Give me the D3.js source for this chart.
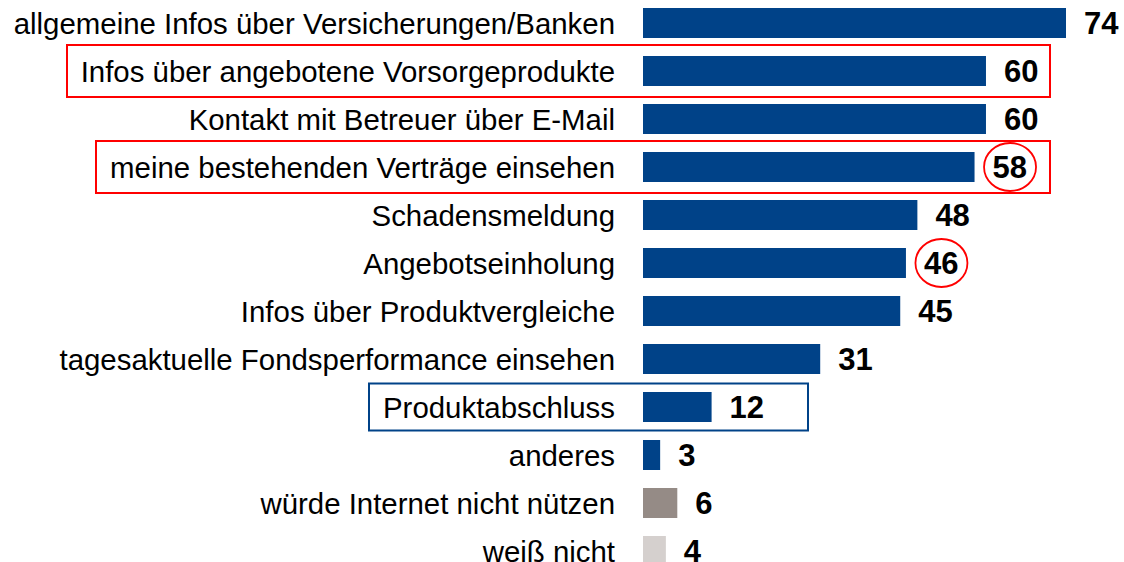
<!DOCTYPE html>
<meta charset="utf-8">
<head>
  <script src="https://d3js.org/d3.v7.min.js"></script>
  <style>
    body { margin: 0; background: #fff; }
    text { font-family: "Liberation Sans", Arial, sans-serif; }
  </style>
</head>
<body>
  <div id="chart"></div>
  <script>
    var categories = [
      "allgemeine Infos über Versicherungen/Banken",
      "Infos über angebotene Vorsorgeprodukte",
      "Kontakt mit Betreuer über E-Mail",
      "meine bestehenden Verträge einsehen",
      "Schadensmeldung",
      "Angebotseinholung",
      "Infos über Produktvergleiche",
      "tagesaktuelle Fondsperformance einsehen",
      "Produktabschluss",
      "anderes",
      "würde Internet nicht nützen",
      "weiß nicht"
    ]
    var values = [74, 60, 60, 58, 48, 46, 45, 31, 12, 3, 6, 4]
    var groups = ["a", "a", "a", "a", "a", "a", "a", "a", "a", "a", "b", "c"]
    var redBoxes = [1, 3]      // rows framed in red
    var blueBoxes = [8]        // rows framed in blue
    var circled = [3, 5]       // values circled in red

    var width = 1124
    var height = 562

    var color = d3.scaleOrdinal()
      .domain(["a", "b", "c"])
      .range(["#004288", "#958b86", "#d5d0ce"])

    var x = d3.scaleLinear().domain([0, 74]).range([643, 1066])
    var y = d3.scaleBand().domain(d3.range(categories.length))
      .range([-1, 575]).paddingInner(0.375).paddingOuter(0.1875)

    var svg = d3.select("#chart").append("svg")
      .attr("width", width)
      .attr("height", height)

    function cy(i) { return y(i) + y.bandwidth() / 2 }

    // bars
    svg.selectAll("rect.bar")
      .data(values)
      .enter().append("rect")
      .attr("class", "bar")
      .attr("x", x(0))
      .attr("y", function(d, i) { return y(i) })
      .attr("width", function(d) { return x(d) - x(0) })
      .attr("height", y.bandwidth())
      .attr("fill", function(d, i) { return color(groups[i]) })

    // category labels
    svg.selectAll("text.cat")
      .data(categories)
      .enter().append("text")
      .attr("class", "cat")
      .attr("x", 615)
      .attr("y", function(d, i) { return cy(i) })
      .attr("dy", "0.36em")
      .attr("text-anchor", "end")
      .style("font-size", "29.4px")
      .attr("fill", "#000")
      .text(function(d) { return d })

    // value labels
    svg.selectAll("text.val")
      .data(values)
      .enter().append("text")
      .attr("class", "val")
      .attr("x", function(d) { return x(d) + 18 })
      .attr("y", function(d, i) { return cy(i) })
      .attr("dy", "0.36em")
      .style("font-size", "31px")
      .style("font-weight", "bold")
      .attr("fill", "#000")
      .text(function(d) { return d })

    // red frames
    var redLeft = { 1: 67, 3: 96 }
    svg.selectAll("rect.red")
      .data(redBoxes)
      .enter().append("rect")
      .attr("x", function(i) { return redLeft[i] })
      .attr("y", function(i) { return cy(i) - 26 })
      .attr("width", function(i) { return 1050 - redLeft[i] })
      .attr("height", 52)
      .attr("fill", "none")
      .attr("stroke", "#ff0000")
      .attr("stroke-width", 2)

    // blue frame
    svg.selectAll("rect.blue")
      .data(blueBoxes)
      .enter().append("rect")
      .attr("x", 369)
      .attr("y", function(i) { return cy(i) - 23.5 })
      .attr("width", 439)
      .attr("height", 47)
      .attr("fill", "none")
      .attr("stroke", "#004288")
      .attr("stroke-width", 2)

    // red circles round values
    svg.selectAll("ellipse")
      .data(circled)
      .enter().append("ellipse")
      .attr("cx", function(i) { return x(values[i]) + 18 + 17.5 })
      .attr("cy", function(i) { return cy(i) })
      .attr("rx", 26)
      .attr("ry", 24)
      .attr("fill", "none")
      .attr("stroke", "#ff0000")
      .attr("stroke-width", 1.8)
  </script>
</body>
